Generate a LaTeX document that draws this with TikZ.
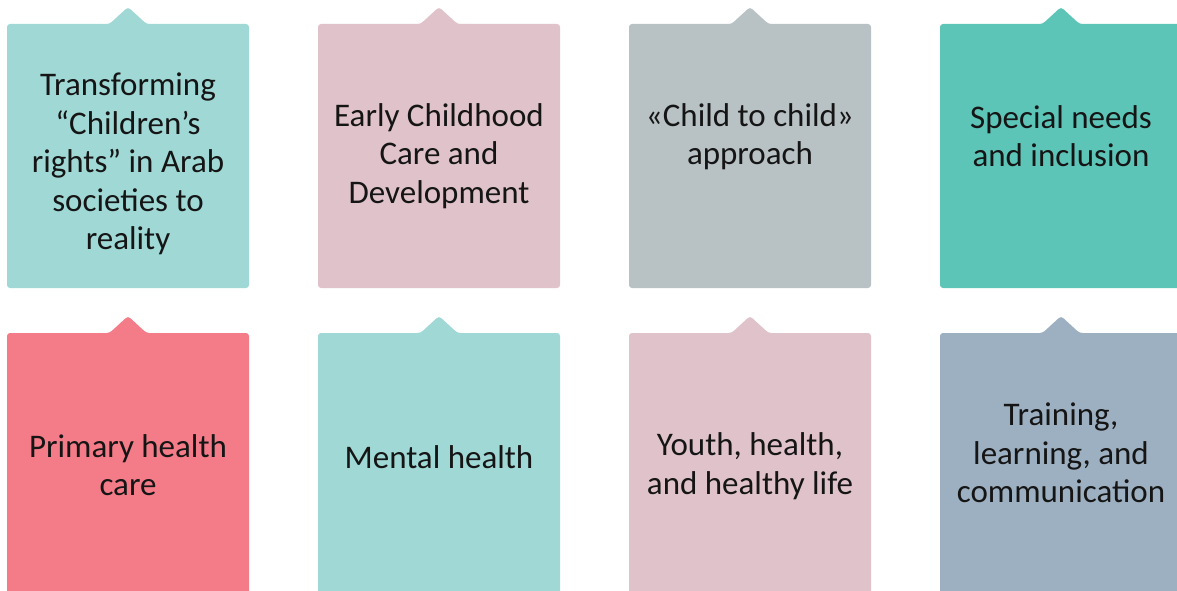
\documentclass[tikz,border=0pt]{standalone}
\usepackage{fontspec}
\setmainfont{Carlito}
\definecolor{cA}{HTML}{9FD8D5}
\definecolor{cB}{HTML}{E0C3CA}
\definecolor{cC}{HTML}{B8C1C4}
\definecolor{cD}{HTML}{5DC4B8}
\definecolor{cE}{HTML}{F47C88}
\definecolor{cF}{HTML}{9DB0C1}
\definecolor{ink}{HTML}{151515}
\newcommand{\tagshape}[5]{% left, top, apex-y, bottom, colour
  \fill[#5, rounded corners=3pt] (#1,#4) -- (#1,#2) -- ({#1+102.5},#2) -- ({#1+121},#3) -- ({#1+139.5},#2) -- ({#1+242},#2) -- ({#1+242},#4) -- cycle;}
\begin{document}
\begin{tikzpicture}[x=1pt,y=-1pt,
  lbl/.style={text=ink, align=center, font=\fontsize{33}{38.5}\selectfont, inner sep=0pt}]
\useasboundingbox (0,0) rectangle (1177,591);
\clip (0,0) rectangle (1177,591);
\tagshape{7}{24}{7}{288}{cA}
\tagshape{318}{24}{7}{288}{cB}
\tagshape{629}{24}{7}{288}{cC}
\tagshape{940}{24}{7}{288}{cD}
\tagshape{7}{333}{316}{610}{cE}
\tagshape{318}{333}{316}{610}{cA}
\tagshape{629}{333}{316}{610}{cB}
\tagshape{940}{333}{316}{610}{cF}
\node[lbl] (t1) at (128,164) {Transforming\\“Children’s\\rights” in Arab\\societies to\\reality};
\node[lbl] (t2) at (439,156) {Early Childhood\\Care and\\Development};
\node[lbl] (t3) at (750,136.5) {«Child to child»\\approach};
\node[lbl] (t4) at (1061,136) {Special needs\\and inclusion};
\node[lbl] (t5) at (128,465) {Primary health\\care};
\node[lbl] (t6) at (439,457) {Mental health};
\node[lbl] (t7) at (750,466) {Youth, health,\\and healthy life};
\node[lbl] (t8) at (1061,453) {Training,\\learning, and\\communication};
\end{tikzpicture}
\end{document}
